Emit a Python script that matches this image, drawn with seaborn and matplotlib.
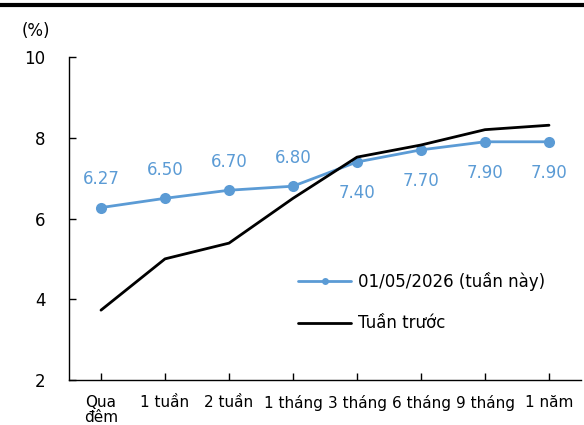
import matplotlib
matplotlib.use("Agg")
import matplotlib.pyplot as plt
import seaborn as sns
import pandas as pd
from matplotlib.lines import Line2D

categories = ["Qua\nđêm", "1 tuần", "2 tuần", "1 tháng", "3 tháng", "6 tháng", "9 tháng", "1 năm"]
this_week = [6.27, 6.50, 6.70, 6.80, 7.40, 7.70, 7.90, 7.90]
last_week = [3.73, 5.00, 5.39, 6.50, 7.52, 7.82, 8.20, 8.31]
yticks = [2, 4, 6, 8, 10]

sns.set_style("white")
plt.rcParams['font.family'] = ['DejaVu Sans']
plt.rcParams['text.color'] = 'black'

blue = "#5B9BD5"
fs = 12
fig = plt.figure(figsize=(5.84, 4.25), dpi=100)
ax = fig.add_axes([69/584, 1-380/425, (581-69)/584, (380-57)/425])

df = pd.DataFrame({"x": list(range(len(categories))), "a": this_week, "b": last_week})
sns.lineplot(data=df, x="x", y="a", ax=ax, color=blue, linewidth=2, marker="o",
             markersize=8, markeredgewidth=0, label="01/05/2026 (tuần này)")
sns.lineplot(data=df, x="x", y="b", ax=ax, color="black", linewidth=2,
             label="Tuần trước")

for i, v in enumerate(this_week):
    if i < 4:
        ax.annotate(f"{v:.2f}", (i, v), xytext=(0, 14), textcoords="offset points",
                    ha="center", va="bottom", color=blue, fontsize=fs)
    else:
        ax.annotate(f"{v:.2f}", (i, v), xytext=(0, -16), textcoords="offset points",
                    ha="center", va="top", color=blue, fontsize=fs)

ax.set_xlim(-0.5, len(categories) - 0.5)
ax.set_ylim(2, 10)
ax.set_yticks(yticks)
ax.set_yticklabels([str(t) for t in yticks], fontsize=fs)
ax.set_xticks(range(len(categories)))
ax.set_xticklabels(categories, fontsize=11, linespacing=0.95)
ax.tick_params(axis="both", direction="in", length=5, width=1, color="black",
               labelcolor="black", bottom=True, left=True)
ax.tick_params(axis="x", pad=11)
ax.tick_params(axis="y", pad=17)
ax.set_xlabel("")
ax.set_ylabel("")
for s in ["top", "right"]:
    ax.spines[s].set_visible(False)
for s in ["left", "bottom"]:
    ax.spines[s].set_color("black")
    ax.spines[s].set_linewidth(1)

fig.text(22/584, 1-31/425, "(%)", fontsize=fs, va="center", ha="left", color="black")

leg = ax.legend(loc="upper left", bbox_to_anchor=((283-69)/512, (380-257)/323),
                frameon=False, fontsize=fs, handlelength=3.2, labelspacing=1.4,
                handletextpad=0.4)
for h in leg.legend_handles:
    h.set_markersize(5)
for t in leg.get_texts():
    t.set_color("black")

fig.add_artist(Line2D([0, 1], [1-5/425, 1-5/425], color="black", linewidth=3,
                      transform=fig.transFigure))

fig.savefig("out.png", dpi=100)
